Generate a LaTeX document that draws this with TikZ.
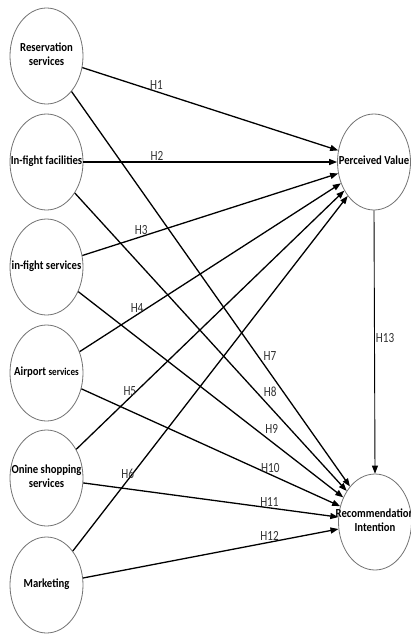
\documentclass[tikz,border=0pt]{standalone}
\usepackage{fontspec}
\setmainfont{Carlito}
\newfontfamily\nodefont{Carlito}[FakeStretch=0.87]
\newfontfamily\hypfont{Carlito}[FakeStretch=0.8]
\usetikzlibrary{arrows.meta,shapes.geometric}
\newcommand{\ctext}[1]{\makebox[0pt]{\begin{tabular}{@{}c@{}}#1\end{tabular}}}

\begin{document}
\begin{tikzpicture}[x=1pt,y=-1pt,
          construct/.style={draw=black!55,line width=0.8pt,ellipse,inner sep=0pt,
                      minimum width=73pt,minimum height=96pt,
                      font=\nodefont\bfseries\fontsize{12.3}{14}\selectfont},
          hyp/.style={-{Triangle[length=8pt,width=6pt]},line width=1.3pt},
          hlabel/.style={font=\hypfont\fontsize{14}{15}\selectfont,
                      text=black!80,inner sep=1pt},
      ]
        \useasboundingbox (0,0) rectangle (411,634);

        % antecedents
        \node[construct] (res)  at (46.5,56)  {\ctext{Reservation\\services}};
        \node[construct] (fac)  at (46.5,162) {\ctext{In-fight facilities}};
        \node[construct] (ifs)  at (46.5,267) {\ctext{in-fight services}};
        \node[construct] (air)  at (46.5,373) {\ctext{Airport {\fontsize{10.5}{12}\selectfont services}}};
        \node[construct] (shop) at (46.5,478) {\ctext{Onine shopping\\services}};
        \node[construct] (mkt)  at (46.5,585) {\ctext{Marketing}};

        % outcomes
        \node[construct] (pv) at (374,162) {\ctext{Perceived Value}};
        \node[construct] (ri) at (375,522) {\ctext{Recommendation\\Intention}};

        % H1-H6 into perceived value
        \draw[hyp] (res)  -- (pv) node[hlabel,pos=0.29,above] {H1};
        \draw[hyp] (fac)  -- (pv) node[hlabel,pos=0.29,above] {H2};
        \draw[hyp] (ifs)  -- (pv) node[hlabel,pos=0.23,above] {H3};
        \draw[hyp] (air)  -- (pv) node[hlabel,pos=0.22,above] {H4};
        \draw[hyp] (shop) -- (pv) node[hlabel,pos=0.20,above] {H5};
        \draw[hyp] (mkt)  -- (pv) node[hlabel,pos=0.20,above] {H6};

        % H7-H12 into recommendation intention
        \draw[hyp] (res)  -- (ri) node[hlabel,pos=0.684,above right] {H7};
        \draw[hyp] (fac)  -- (ri) node[hlabel,pos=0.689,above right] {H8};
        \draw[hyp] (ifs)  -- (ri) node[hlabel,pos=0.70,above right] {H9};
        \draw[hyp] (air)  -- (ri) node[hlabel,pos=0.73,above] {H10};
        \draw[hyp] (shop) -- (ri) node[hlabel,pos=0.73,above] {H11};
        \draw[hyp] (mkt)  -- (ri) node[hlabel,pos=0.73,above] {H12};

        % mediator path
        \draw[-{Triangle[length=8pt,width=6pt]},line width=0.9pt]
          (pv.south) -- (ri.north) node[hlabel,pos=0.485,right] {H13};
      \end{tikzpicture}
\end{document}
